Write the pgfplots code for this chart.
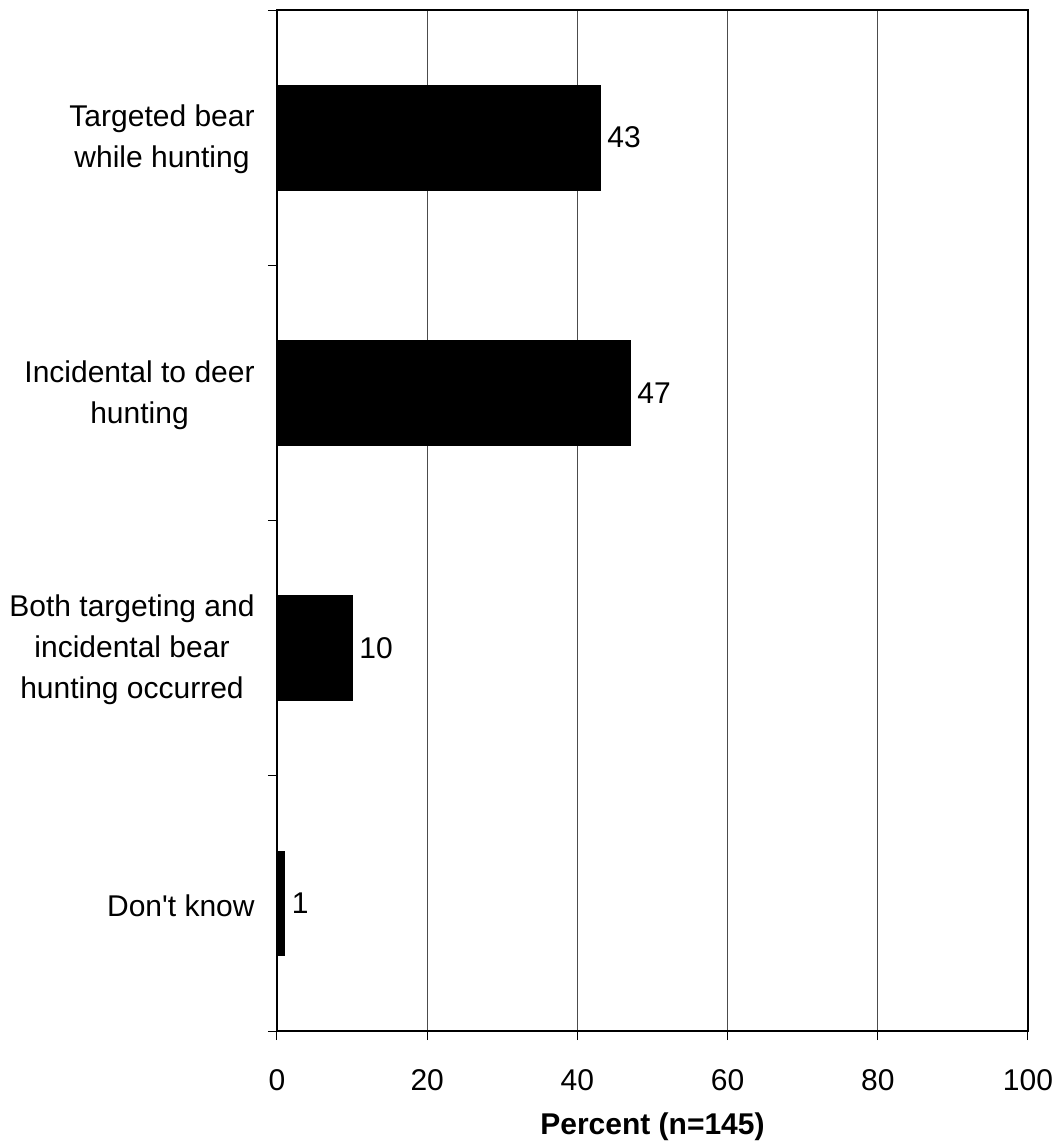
\documentclass[border=0pt]{standalone}
\usepackage{fontspec}
\setmainfont{Liberation Sans}
\usepackage{pgfplots}
\pgfplotsset{compat=1.18}
\begin{document}
\fontsize{15pt}{20.5pt}\selectfont
\begin{tikzpicture}
\begin{axis}[
  scale only axis,
  width=375.5pt, height=510.5pt,
  xbar, bar width=0.41,
  xmin=0, xmax=100,
  ymin=-0.5, ymax=3.5,
  y dir=reverse,
  xtick={0,20,40,60,80,100},
  ytick={-0.5,0.5,1.5,2.5,3.5},
  yticklabels={},
  xtick pos=bottom, ytick pos=left,
  extra y ticks={0,1,2,3},
  extra y tick labels={{Targeted bear\\while hunting},{Incidental to deer\\hunting},{Both targeting and\\incidental bear\\hunting occurred},{Don\textquotesingle t know}},
  extra y tick style={major tick length=0pt, yticklabel style={align=center, inner sep=0pt, xshift=-11pt, yshift=-1pt}},
  tick align=outside,
  major tick length=4.5pt,
  tick style={black, line width=0.5pt},
  xmajorgrids,
  grid style={black!70, line width=0.5pt},
  axis line style={line width=1pt},
  /pgf/number format/assume math mode=true,
  ticklabel style={font=\fontsize{15pt}{20.5pt}\selectfont},
  xticklabel style={inner sep=0pt, yshift=-14.5pt},
  xlabel={\textbf{Percent (n=145)}},
  xlabel style={font=\fontsize{15pt}{20.5pt}\selectfont, yshift=-6pt},
  nodes near coords,
  nodes near coords style={font=\fontsize{15pt}{20.5pt}\selectfont, anchor=west, inner sep=0pt, xshift=3.5pt, black},
  point meta=explicit symbolic,
]
\addplot[fill=black, draw=black] coordinates {(43,0) [43] (47,1) [47] (10,2) [10] (1,3) [1]};
\draw[line width=1pt] (axis cs:0,-0.5) rectangle (axis cs:100,3.5);
\coordinate (bl) at (axis cs:0,3.5);
\coordinate (tr) at (axis cs:100,-0.5);
\end{axis}
\pgfresetboundingbox
\useasboundingbox ([xshift=-138.5pt,yshift=-58pt]bl) rectangle ([xshift=15pt,yshift=5pt]tr);
\end{tikzpicture}
\end{document}
